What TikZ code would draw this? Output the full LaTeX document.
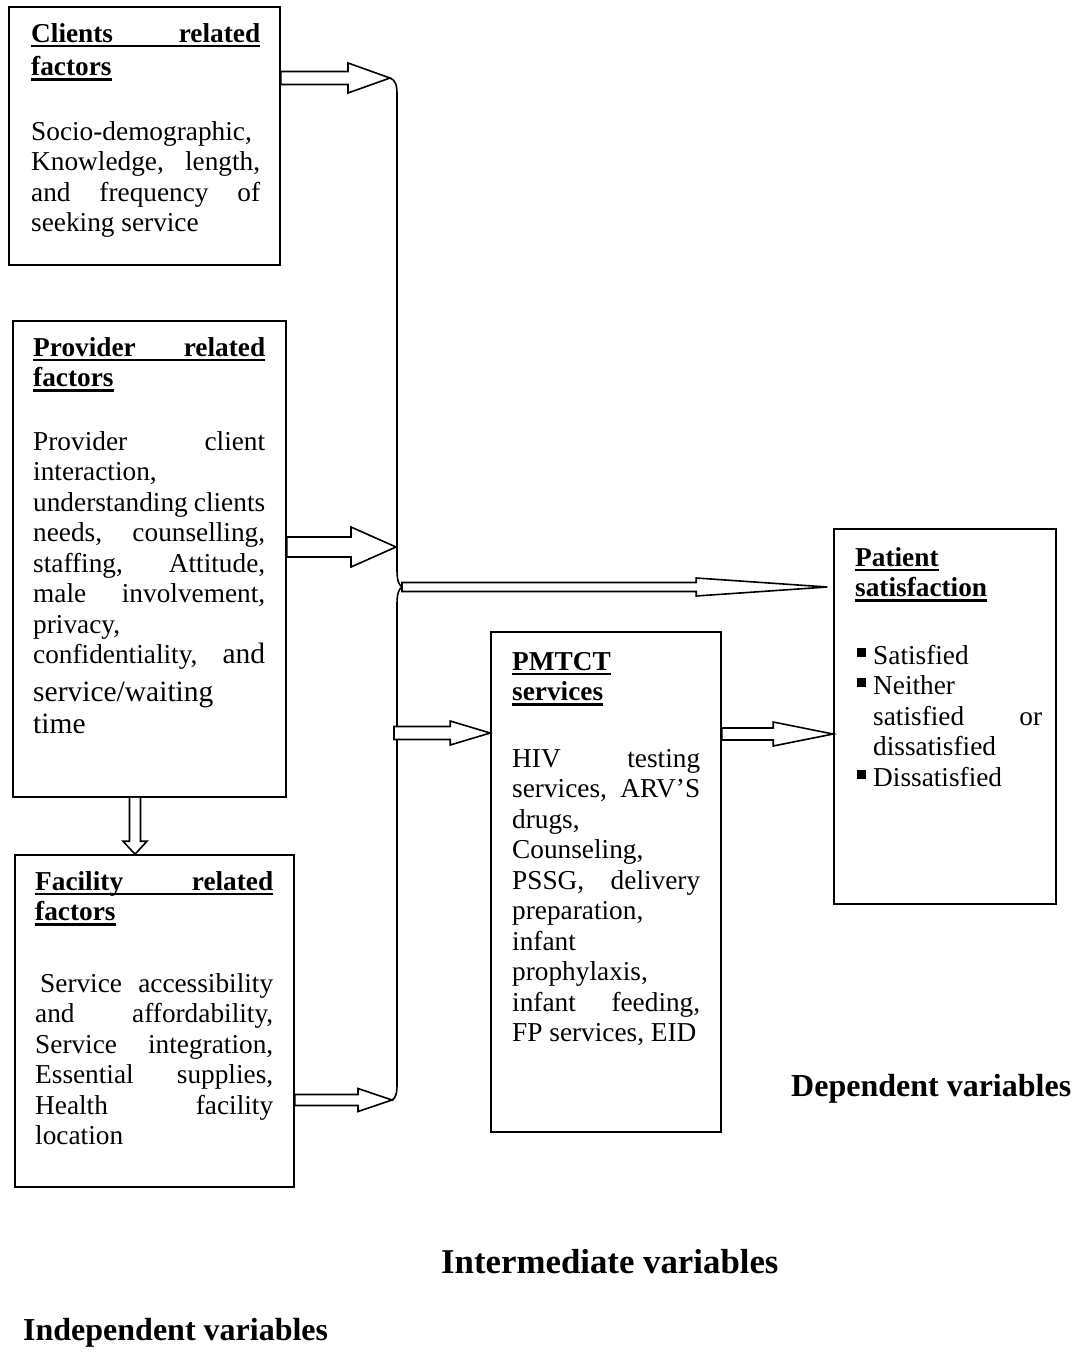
\documentclass[tikz,border=0pt]{standalone}
\usepackage{fontspec}
\setmainfont{Liberation Serif}
\usetikzlibrary{calc}
\newcommand\ulx[1]{\leavevmode\setbox0\hbox{#1}\rlap{\vrule width\wd0 height -2.5pt depth 5.2pt}\box0}
\newcommand\jl[1]{\makebox[\linewidth][s]{#1}}
\newcommand\tl[1]{\ulx{\makebox[\linewidth][s]{\bfseries #1}}}
\newcommand\ut[1]{\ulx{\textbf{#1}}}
\newcommand\bigf{\fontsize{29.5}{30.5}\selectfont}
\newcommand\bul{\makebox[18pt][l]{\hspace{1.5pt}\rule[7.5pt]{9pt}{9pt}}}
% #1 start, #2 tip, #3 shaft half width, #4 head half width, #5 head length
\newcommand\barrow[5]{%
  \draw[blk] ($(#1)+(0,#3)$) -- ($(#2)+(-#5,#3)$) -- ($(#2)+(-#5,#4)$) -- (#2)
     -- ($(#2)+(-#5,-#4)$) -- ($(#2)+(-#5,-#3)$) -- ($(#1)+(0,-#3)$) -- cycle;}
\lineskiplimit=-100pt
\lineskip=0pt
\begin{document}
\begin{tikzpicture}[x=1pt,y=-1pt,
  box/.style={draw, line width=1.6pt, inner sep=0pt},
  txt/.style={anchor=base west, inner sep=0pt, font=\fontsize{27.3}{30.5}\selectfont},
  blk/.style={draw, fill=white, line width=1.6pt, line join=miter},
  brace/.style={draw, line width=1.6pt},
  lab/.style={anchor=base west, inner sep=0pt, font=\fontsize{32}{38}\selectfont\bfseries}]
\useasboundingbox (0,0) rectangle (1081,1368);

% boxes
\node[box, minimum width=271pt, minimum height=258pt] (clients) at (144.5,136) {};
\node[box, minimum width=273pt, minimum height=476pt] (provider) at (149.5,559) {};
\node[box, minimum width=279pt, minimum height=332pt] (facility) at (154.5,1021) {};
\node[box, minimum width=230pt, minimum height=500pt] (pmtct) at (606,882) {};
\node[box, minimum width=222pt, minimum height=375pt] (patient) at (945,716.5) {};

% texts
\node[txt] (clientstext) at (31,42) {\parbox[t]{229pt}{%
  \tl{Clients related}\\[3pt]
  \ut{factors}\\[34pt]
  Socio-demographic,\\
  \jl{Knowledge, length,}\\
  \jl{and frequency of}\\
  seeking service}};

\node[txt] (providertext) at (33,356) {\parbox[t]{232pt}{%
  \tl{Provider related}\\
  \ut{factors}\\[33pt]
  \jl{Provider client}\\
  interaction,\\
  \jl{understanding clients}\\
  \jl{needs, counselling,}\\
  \jl{staffing, Attitude,}\\
  \jl{male involvement,}\\
  privacy,\\
  \jl{confidentiality, {\bigf and}}\\[7pt]
  {\bigf service/waiting}\\[1.5pt]
  {\bigf time}}};

\node[txt] (facilitytext) at (35,890) {\parbox[t]{238pt}{%
  \tl{Facility related}\\
  \ut{factors}\\[41pt]
  \jl{\hspace{5pt}Service accessibility}\\
  \jl{and affordability,}\\
  \jl{Service integration,}\\
  \jl{Essential supplies,}\\
  \jl{Health facility}\\
  location}};

\node[txt] (pmtcttext) at (512,670) {\parbox[t]{188pt}{%
  \ut{PMTCT}\\
  \ut{services}\\[36pt]
  \jl{HIV testing}\\
  \jl{services, ARV’S}\\
  drugs,\\
  Counseling,\\
  \jl{PSSG, delivery}\\
  preparation,\\
  infant\\
  prophylaxis,\\
  \jl{infant feeding,}\\
  FP services, EID}};

\node[txt] (patienttext) at (855,566) {\parbox[t]{187pt}{%
  \ut{Patient}\\
  \ut{satisfaction}\\[37pt]
  \bul Satisfied\\
  \bul Neither\\
  \hspace*{18pt}\makebox[169pt][s]{satisfied or}\\
  \hspace*{18pt}dissatisfied\\
  \bul Dissatisfied}};

% labels
\node[lab] (dep) at (791,1096) {Dependent variables};
\node[lab, font=\fontsize{34.8}{40}\selectfont\bfseries] (inter) at (441,1273) {Intermediate variables};
\node[lab] (indep) at (23,1340) {Independent variables};

% brace
\coordinate (bt) at (390,78);
\coordinate (bc) at (402,587);
\coordinate (bb) at (392,1100);
\coordinate (b2) at (396,547);
\coordinate (b4) at (394,733);
\draw[brace] (bt) .. controls (396,80) and (397,86) .. (397,95)
  -- (397,570) .. controls (397,581) and (399,585) .. (bc)
  .. controls (399,589) and (397,593) .. (397,604)
  -- (397,1083) .. controls (397,1093) and (396,1098) .. (bb);

% arrows
\coordinate (a1s) at (clients.east |- bt);
\barrow{a1s}{bt}{6.5}{15}{42}
\coordinate (a2s) at (provider.east |- b2);
\barrow{a2s}{b2}{10}{20}{45}
\coordinate (a3t) at ($(patient.west |- bc)+(-6,0)$);
\barrow{bc}{a3t}{4.5}{9}{131}
\coordinate (a4t) at (pmtct.west |- b4);
\barrow{b4}{a4t}{6.5}{12}{40}
\coordinate (a5s) at ($(pmtct.east)+(0,-148)$);
\coordinate (a5t) at (patient.west |- a5s);
\barrow{a5s}{a5t}{6}{12}{60}
\coordinate (a7s) at (facility.east |- bb);
\barrow{a7s}{bb}{5.5}{11.5}{34}

% down arrow provider -> facility
\coordinate (d6s) at (provider.south -| 135,0);
\coordinate (d6t) at (d6s |- facility.north);
\draw[blk] ($(d6s)+(-5.5,0)$) -- ($(d6t)+(-5.5,-13)$) -- ($(d6t)+(-12,-13)$) -- (d6t)
  -- ($(d6t)+(12,-13)$) -- ($(d6t)+(5.5,-13)$) -- ($(d6s)+(5.5,0)$);
\end{tikzpicture}
\end{document}
